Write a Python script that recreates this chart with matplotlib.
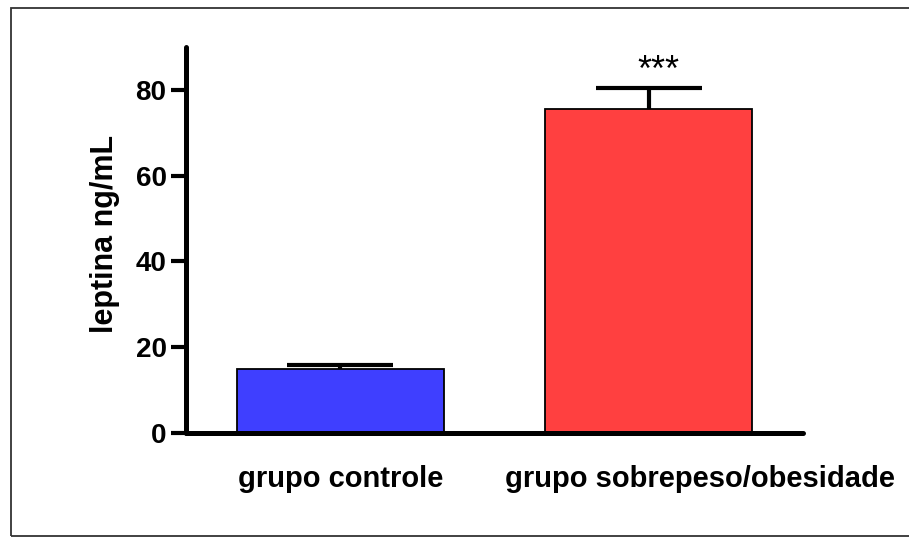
import matplotlib
matplotlib.use("Agg")
import matplotlib.pyplot as plt
from matplotlib.patches import Rectangle
from matplotlib.transforms import ScaledTranslation

plt.rcParams['font.family'] = ['Liberation Sans', 'DejaVu Sans']

categories = ["grupo controle", "grupo sobrepeso/obesidade"]
means = [15.0, 75.6]
errors = [0.9, 4.9]
colors = ["#3f3fff", "#ff4040"]
yticks = [0, 20, 40, 60, 80]
signif = "***"

W, H = 909, 537
fig = plt.figure(figsize=(W / 100, H / 100), dpi=100)
ax = fig.add_axes([186 / W, 1 - 433 / H, (803 - 186) / W, (433 - 47) / H])

# outer frame
fig.patches.append(Rectangle((10.5 / W, 1 - 535.5 / H), (W + 5 - 10.5) / W, (535.5 - 7.5) / H,
                             transform=fig.transFigure, fill=False, edgecolor="#333333",
                             linewidth=1.3, clip_on=False))

x = list(range(len(categories)))
ax.bar(x, means, width=0.67, color=colors, edgecolor="black", linewidth=1.3, zorder=2)
_, caps, _ = ax.errorbar(x, means, yerr=[[0] * len(errors), errors], fmt="none", ecolor="black",
                         elinewidth=3.0, capsize=38, capthick=3.0, zorder=3)
for c in caps:
    if list(c.get_ydata()) == list(means):
        c.set_visible(False)
ax.text(1.03, 82.2, signif, ha="center", va="baseline", fontsize=26)

ax.set_xlim(-0.5, 1.5)
ax.set_ylim(0, 90)
ax.set_yticks(yticks)
ax.set_xticks(x)
ax.set_xticklabels([])
ax.tick_params(axis="x", length=0)
# category labels (second one is shifted right as in the original)
offsets_px = [0, 51]
base = ax.get_xaxis_transform()
for xi, lab, off in zip(x, categories, offsets_px):
    tr = base + ScaledTranslation(off / 100, -32 / 100, fig.dpi_scale_trans)
    ax.text(xi, 0, lab, transform=tr, ha="center", va="top", fontsize=21,
            fontweight="bold", clip_on=False)

ax.tick_params(axis="y", length=11, width=3, labelsize=20, pad=3)
for lab in ax.get_yticklabels():
    lab.set_fontweight("bold")
ax.set_ylabel("leptina ng/mL", fontsize=22, fontweight="bold")
ax.yaxis.set_label_coords(-0.107, 0.515)

for s in ["top", "right"]:
    ax.spines[s].set_visible(False)
for s in ["left", "bottom"]:
    ax.spines[s].set_linewidth(3.6)
    ax.spines[s].set_capstyle("round")

fig.savefig("out.png", dpi=100)
